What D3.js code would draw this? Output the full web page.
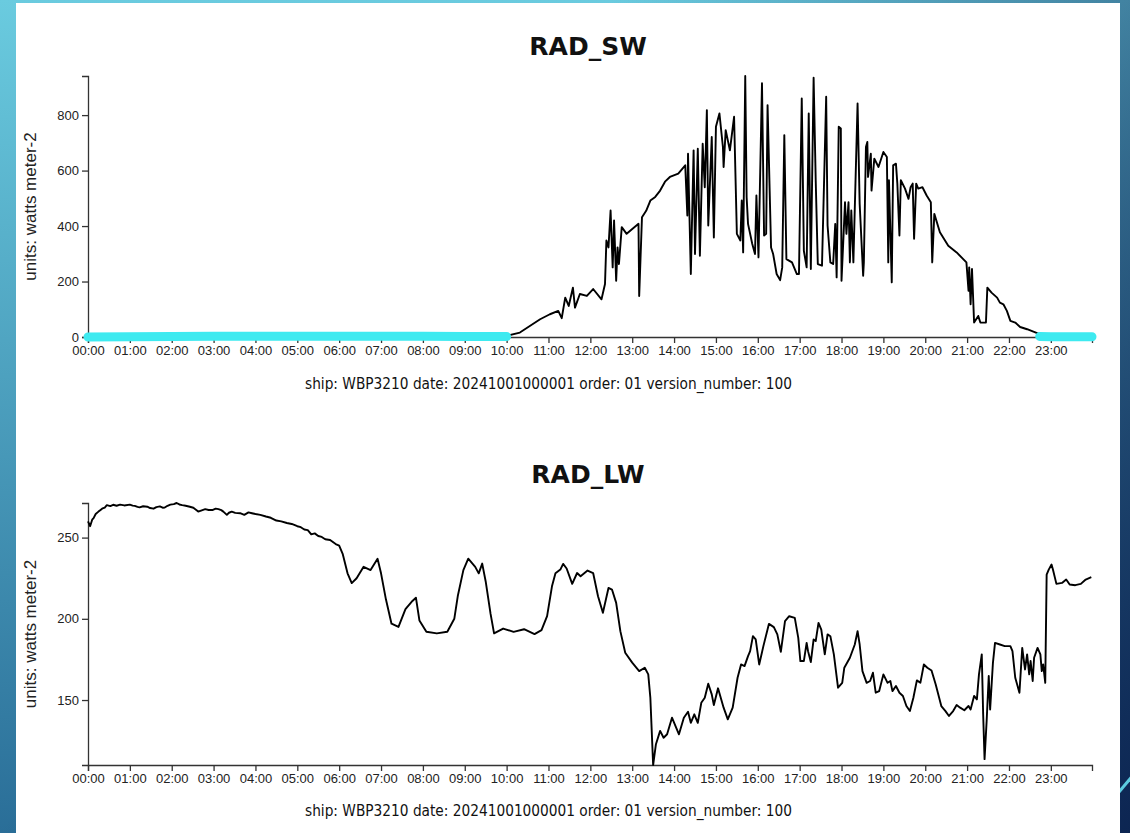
<!DOCTYPE html>
<html>
<head>
<meta charset="utf-8">
<script src="https://cdn.jsdelivr.net/npm/d3@7"></script>
<style>
  body { margin: 0; }
  svg { display: block; }
</style>
</head>
<body>
<svg id="chart" width="1130" height="833"></svg>
<script>
// ---- data -------------------------------------------------------------
const obsDay = "2024-10-01";
const hourTicks = ["00:00","01:00","02:00","03:00","04:00","05:00","06:00","07:00","08:00","09:00","10:00","11:00",
                   "12:00","13:00","14:00","15:00","16:00","17:00","18:00","19:00","20:00","21:00","22:00","23:00"];
const dayEnd = "23:59";
const subtitle = "ship: WBP3210 date: 20241001000001 order: 01 version_number: 100";
const unitsLabel = "units: watts meter-2";

// shortwave radiation, daytime record
const swTimes = ["10:00","10:19","10:48","11:02","11:14","11:19","11:24","11:29","11:35","11:38","11:45","11:55",
  "12:04","12:16","12:21","12:23","12:26","12:29","12:32","12:34","12:37","12:39","12:41","12:45","12:52",
  "13:09","13:10","13:14","13:20","13:26","13:33","13:40","13:47","13:54","14:06","14:16","14:19","14:20","14:24",
  "14:28","14:30","14:34","14:37","14:41","14:44","14:47","14:49","14:54","14:57","15:00","15:05","15:10","15:11",
  "15:14","15:20","15:26","15:30","15:35","15:37","15:39","15:42","15:44","15:46","15:52","15:56","15:58","16:01",
  "16:06","16:09","16:12","16:14","16:19","16:22","16:27","16:32","16:35","16:38","16:41","16:49","16:56","16:59",
  "17:03","17:06","17:10","17:13","17:16","17:20","17:23","17:26","17:32","17:38","17:40","17:44","17:48","17:51",
  "17:53","17:56","17:59","18:00","18:05","18:07","18:10","18:12","18:14","18:17","18:19","18:23","18:26","18:31",
  "18:32","18:35","18:37","18:38","18:42","18:43","18:47","18:53","19:00","19:05","19:07","19:08","19:12","19:14",
  "19:18","19:20","19:23","19:25","19:31","19:36","19:39","19:42","19:44","19:47","19:50","19:56","20:02","20:08",
  "20:10","20:13","20:21","20:33","20:45","20:59","21:02","21:03","21:05","21:07","21:10","21:16","21:19","21:27",
  "21:29","21:35","21:43","21:47","21:52","21:57","22:02","22:09","22:16","22:26","22:35","22:44"];
const swValues = [4,16,64,82,94,68,142,112,178,106,155,148,
  173,136,191,348,323,456,251,420,203,323,263,396,372,
  408,148,432,455,492,505,528,560,577,589,619,438,661,227,
  673,299,679,293,697,540,818,402,721,359,758,806,685,613,
  746,673,794,372,348,492,305,941,504,408,336,299,510,287,
  915,366,372,836,323,299,227,205,251,728,281,269,227,227,
  860,311,251,806,245,935,565,263,257,866,402,269,263,408,
  215,758,752,203,486,372,486,269,456,269,462,842,480,221,
  269,685,703,577,661,528,643,613,667,649,269,565,197,619,
  625,553,366,565,535,498,540,553,354,553,535,540,510,486,
  269,444,378,329,305,269,167,251,118,245,52,76,52,52,
  178,160,142,124,118,94,58,52,36,28,19,10];

// shortwave readings flagged at night (before sunrise / after sunset)
const swNightAmTimes  = ["00:00","01:00","02:00","03:00","04:00","05:00","06:00","07:00","08:00","09:00","10:00"];
const swNightAmValues = [0,1,2,3,3,3,3,3,3,2,2];
const swNightPmTimes  = ["22:44","23:00","23:15","23:30","23:45","23:59"];
const swNightPmValues = [2,1,1,1,1,1];

// longwave radiation
const lwTimes = ["00:00","00:03","00:06","00:08","00:11","00:15","00:18","00:21","00:24","00:27","00:32","00:36",
  "00:41","00:46","00:52","01:00","01:04","01:07","01:11","01:14","01:19","01:25","01:29","01:34","01:38","01:43",
  "01:47","01:50","01:54","01:58","02:03","02:07","02:11","02:15","02:20","02:26","02:31","02:38","02:43","02:48",
  "02:53","02:59","03:03","03:07","03:11","03:14","03:19","03:22","03:26","03:31","03:38","03:44","03:50","03:55",
  "04:00","04:07","04:15","04:22","04:30","04:37","04:45","04:52","05:00","05:05","05:10","05:15","05:20","05:25",
  "05:30","05:35","05:40","05:47","05:55","06:00","06:05","06:12",
  "06:18","06:25","06:35","06:45","06:55","07:00","07:07","07:15","07:25","07:35","07:45","07:50","07:55","08:05",
  "08:20","08:35","08:45","08:50","08:58","09:05","09:15","09:20","09:25","09:30","09:37","09:42","09:55","10:10",
  "10:25","10:40","10:50","10:58","11:05","11:10","11:17","11:21","11:26","11:34","11:41","11:46","11:56","12:04",
  "12:11","12:18","12:26","12:31","12:37","12:43","12:50","13:00","13:10","13:18","13:23","13:26","13:30","13:34",
  "13:40","13:45","13:50","13:57","14:07","14:14","14:20","14:24","14:29","14:34","14:39","14:44","14:49","14:54",
  "14:57","15:03","15:11","15:17","15:24","15:31","15:36","15:41","15:46","15:49","15:53","15:57","16:02","16:08",
  "16:16","16:23","16:28","16:33","16:39","16:45","16:53","16:58","17:01","17:06","17:10","17:12","17:16","17:20",
  "17:23","17:27","17:31","17:36","17:40","17:44","17:49","17:55","18:01","18:04","18:12","18:19","18:23","18:26",
  "18:30","18:36","18:41","18:45","18:49","18:54","19:00","19:06","19:10","19:13","19:18","19:23","19:28","19:33",
  "19:38","19:43","19:48","19:53","19:58","20:03","20:09","20:15","20:23","20:29","20:34","20:40","20:45","20:50",
  "20:56","21:02","21:05","21:10","21:14","21:17","21:21","21:23","21:25","21:28","21:31","21:33","21:37","21:40",
  "21:47","21:54","22:02","22:05","22:09","22:15","22:19","22:23","22:26","22:29","22:31","22:34","22:36","22:41",
  "22:45","22:47","22:49","22:52","22:54","22:57","23:01","23:03","23:08","23:16","23:22","23:27","23:35","23:43",
  "23:50","23:58"];
const lwValues = [260,257,261,262,264.5,266,267,268,268.5,270,269.4,270.2,
  269.6,270.3,269.8,270.3,269.7,269.5,268.9,268.6,269.3,269,268.2,267.8,268.8,269.2,
  268.4,268.5,269.6,270.3,270.6,271.3,270.4,270,269.6,269,268.4,266,266.8,267.5,
  267,267,267.8,267.5,266.9,266,264,265.3,266,265.2,265,264,265.5,265,
  264.5,264,263,262.2,260.5,260,259,258.4,257,256.4,255,254.6,252,252.6,
  251,250.4,249,248.5,246,245,240,228,
  222,225,232,230,237,228,212,197,195,206,211,213,199,192,
  191,192,200,214,230,237,232,228,234,223,203,191,194,192,
  193.6,190.6,193,201.6,220,228,230.3,233.8,231,221.5,228.2,226.2,229.7,228.2,
  213.9,203.7,219,218,209.8,192.4,179.1,173,167.8,169.9,165.8,151.4,110,122.8,
  131,126.8,128.9,139.1,128.9,139.1,142.8,136,141.2,136,148.3,151.4,160,153.5,
  146.9,157.2,145.3,138.1,145.3,163.7,171.9,170.9,177,180.1,189.3,187.3,171.9,183.2,
  196.9,194.9,190.4,179.7,198.6,201.6,200.6,188.3,174,174,185.2,180.1,173.4,187.3,
  186.3,197.5,193.4,178.1,190.4,189.3,178.1,157.6,160.6,169.9,176,184.2,192.4,184.2,
  167.8,160.6,161.7,166.8,154.5,155.5,165.8,160.6,161.7,155.5,158.6,154.5,152.5,146.3,
  143.2,151.4,162.1,160.6,171.9,169.9,168.2,159.6,146.3,143.2,140.2,143.2,146.9,145.3,
  143.7,146.3,144.2,152.5,150.4,165.8,178.1,141.2,113.6,137.1,164.8,144.2,172.9,185.2,
  184.2,183.2,183.2,180.1,163.7,154.5,182.1,168.8,178.1,165.8,174,161.7,176,182.1,
  178.1,167.8,171.9,160.6,227.2,230.3,233.4,230.3,221.5,222.1,224.2,221.1,220.7,221.5,
  224.2,225.6];

// ---- helpers ------------------------------------------------------------
const parseTime = d3.timeParse("%Y-%m-%d %H:%M");
const toDate = t => parseTime(obsDay + " " + t);
const zipSeries = (times, values) => times.map((t, i) => ({ t: toDate(t), v: values[i] }));

const svg = d3.select("#chart");
const W = 1130, H = 833;

// slide backdrop
const defs = svg.append("defs");
const bgV = defs.append("linearGradient").attr("id", "bgV")
  .attr("x1", 0).attr("y1", 0).attr("x2", 0).attr("y2", 1);
bgV.append("stop").attr("offset", 0).attr("stop-color", "#6acbdf");
bgV.append("stop").attr("offset", 1).attr("stop-color", "#2a6e98");
const bgD = defs.append("linearGradient").attr("id", "bgD")
  .attr("gradientUnits", "userSpaceOnUse")
  .attr("x1", 0).attr("y1", 0).attr("x2", W).attr("y2", H);
bgD.append("stop").attr("offset", 0.35).attr("stop-color", "#0a1f4c").attr("stop-opacity", 0);
bgD.append("stop").attr("offset", 1).attr("stop-color", "#0a1f4c").attr("stop-opacity", 0.92);

svg.append("rect").attr("width", W).attr("height", H).attr("fill", "url(#bgV)");
svg.append("rect").attr("width", W).attr("height", H).attr("fill", "url(#bgD)");
svg.append("line").attr("x1", 1119).attr("y1", 792).attr("x2", 1134).attr("y2", 774)
  .attr("stroke", "#5ccbe0").attr("stroke-width", 3);

// white content card
svg.append("rect").attr("x", 16).attr("y", 3).attr("width", 1104).attr("height", 830).attr("fill", "#ffffff");

// shared horizontal time scale
const x = d3.scaleTime()
  .domain([toDate(hourTicks[0]), toDate(dayEnd)])
  .range([88, 1092]);

function drawPanel(cfg) {
  const g = svg.append("g");
  const y = d3.scaleLinear().domain(cfg.yDomain).range([cfg.bottom, cfg.top]);

  // x axis
  const xAxis = g.append("g")
    .attr("transform", `translate(0,${cfg.bottom})`)
    .call(d3.axisBottom(x).tickValues(hourTicks.map(toDate)).tickFormat(d3.timeFormat("%H:%M")));
  // y axis
  const yAxis = g.append("g")
    .attr("transform", `translate(${x.range()[0]},0)`)
    .call(d3.axisLeft(y).ticks(5));
  [xAxis, yAxis].forEach(a => {
    a.attr("font-family", "'Liberation Sans', Arial, Helvetica, sans-serif").attr("font-size", 13);
    a.selectAll("text").attr("fill", "#222");
    a.selectAll("path,line").attr("stroke", "#333").attr("stroke-width", 1.3);
  });

  // series line
  const line = d3.line().x(d => x(d.t)).y(d => y(d.v));
  g.append("path")
    .datum(cfg.series)
    .attr("fill", "none")
    .attr("stroke", "#000")
    .attr("stroke-width", 1.9)
    .attr("stroke-linejoin", "round")
    .attr("d", line);

  // flagged night-time readings
  (cfg.flagged || []).forEach(seg => {
    g.append("path")
      .datum(seg)
      .attr("fill", "none")
      .attr("stroke", "#3eeaf0")
      .attr("stroke-width", 9)
      .attr("stroke-linecap", "round")
      .attr("stroke-linejoin", "round")
      .attr("d", line);
  });

  // title
  g.append("text")
    .attr("x", 588).attr("y", cfg.titleY)
    .attr("text-anchor", "middle")
    .attr("font-family", "'DejaVu Sans', Verdana, sans-serif")
    .attr("font-weight", "bold")
    .attr("font-size", 25)
    .attr("fill", "#111")
    .text(cfg.title);

  // y label
  g.append("text")
    .attr("transform", `translate(36,${(cfg.top + cfg.bottom) / 2}) rotate(-90)`)
    .attr("text-anchor", "middle")
    .attr("font-family", "'Liberation Sans', Arial, Helvetica, sans-serif")
    .attr("font-size", 17)
    .attr("fill", "#222")
    .text(unitsLabel);

  // caption under the axis
  g.append("text")
    .attr("x", 305).attr("y", cfg.captionY)
    .attr("font-family", "'DejaVu Sans Condensed', 'DejaVu Sans', Verdana, sans-serif")
    .attr("font-size", 16)
    .attr("textLength", 487)
    .attr("lengthAdjust", "spacingAndGlyphs")
    .attr("fill", "#111")
    .text(subtitle);
}

const sw = zipSeries(swTimes, swValues);
drawPanel({
  title: "RAD_SW",
  series: sw,
  flagged: [zipSeries(swNightAmTimes, swNightAmValues), zipSeries(swNightPmTimes, swNightPmValues)],
  yDomain: [0, d3.max(swValues)],
  top: 76, bottom: 337,
  titleY: 55, captionY: 389
});

const lw = zipSeries(lwTimes, lwValues);
drawPanel({
  title: "RAD_LW",
  series: lw,
  yDomain: d3.extent(lwValues),
  top: 503, bottom: 765,
  titleY: 483, captionY: 816
});
</script>
</body>
</html>
